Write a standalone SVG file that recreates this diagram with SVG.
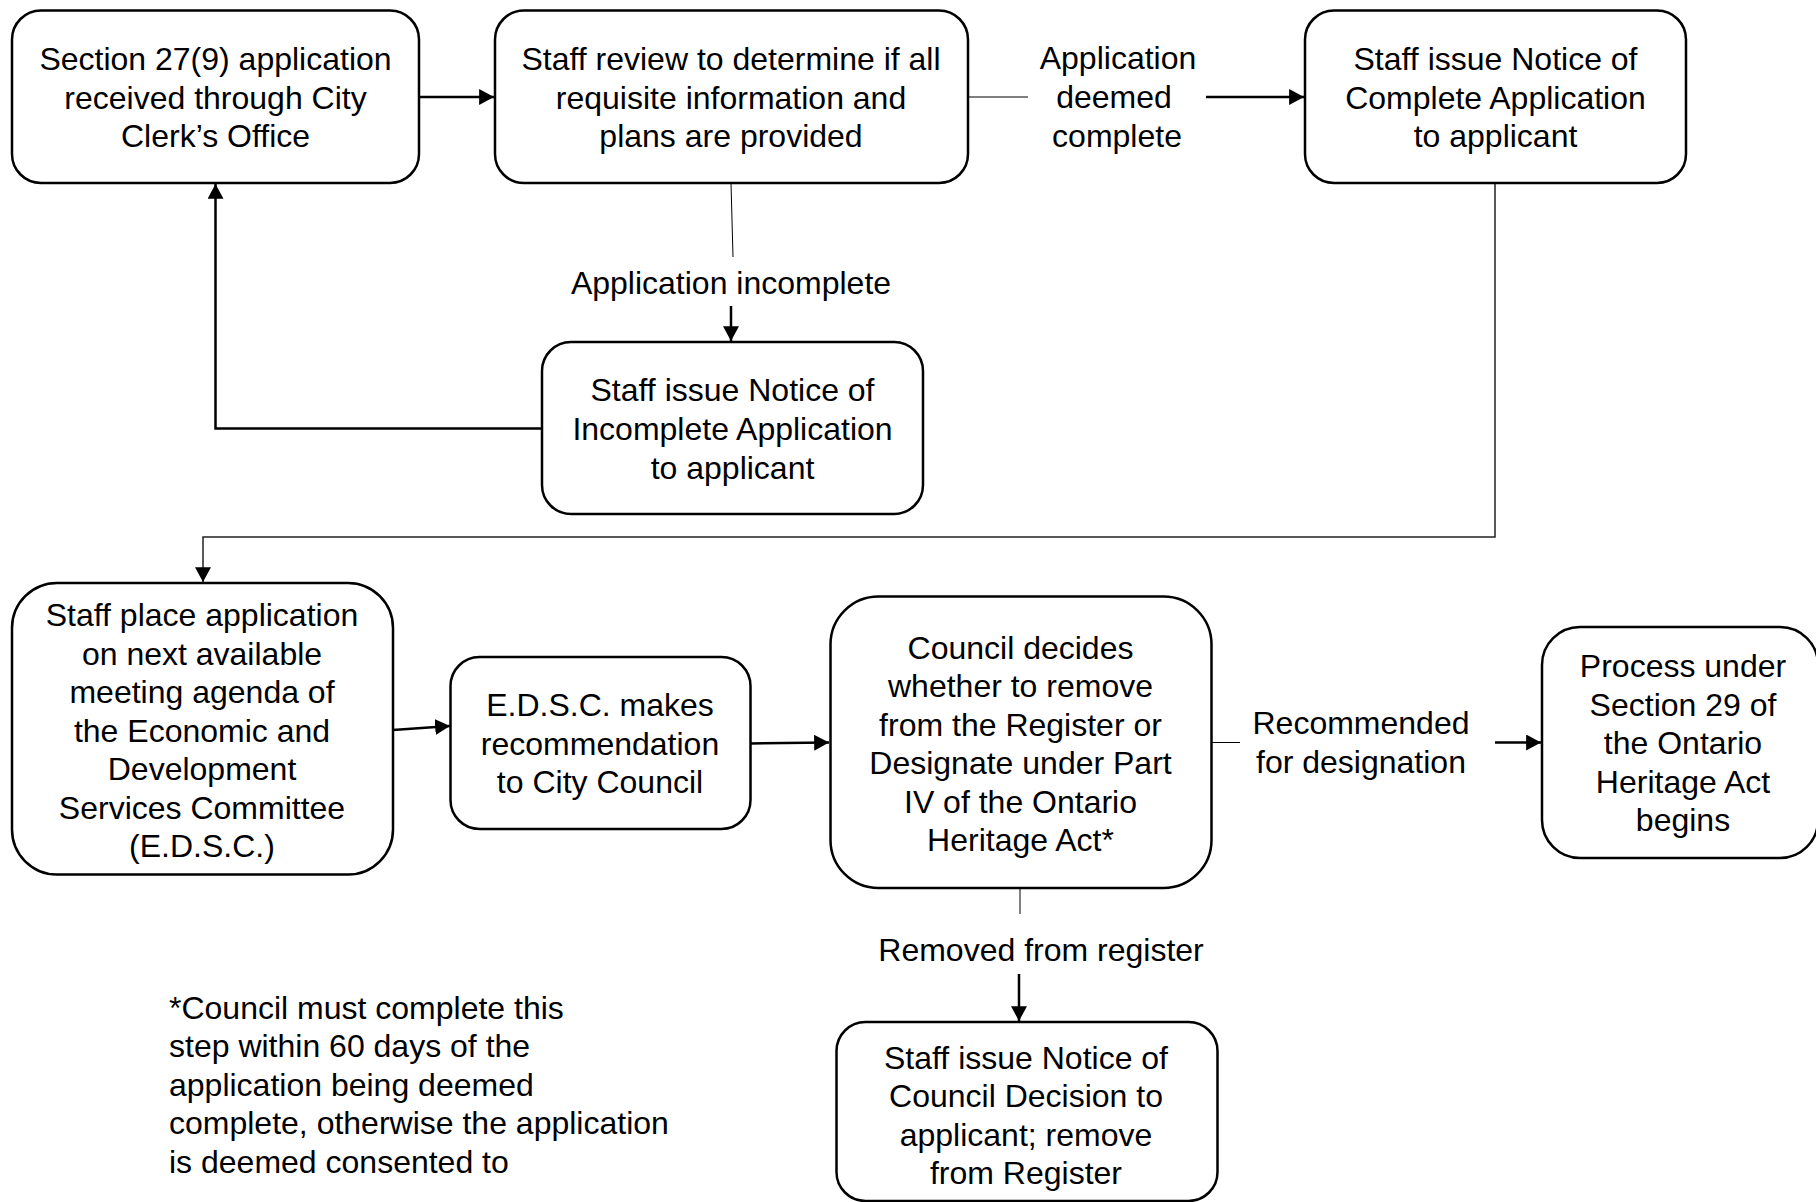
<svg xmlns="http://www.w3.org/2000/svg" width="1816" height="1202" viewBox="0 0 1816 1202">
<style>
.box{fill:#fff;stroke:#000;stroke-width:2.5}
.t{font-family:"Liberation Sans",Arial,sans-serif;font-size:32px;fill:#000;text-anchor:middle}
.tl{font-family:"Liberation Sans",Arial,sans-serif;font-size:32px;fill:#000}
.thick{fill:none;stroke:#000;stroke-width:2.5}
.thin{fill:none;stroke:#000;stroke-width:1}
.mid{fill:none;stroke:#222;stroke-width:1.5}
</style>
<defs>
<marker id="ah" markerUnits="userSpaceOnUse" markerWidth="16" markerHeight="16" viewBox="0 0 14 14" refX="13" refY="7" orient="auto">
<path d="M0,0 L13,7 L0,14 Z" fill="#000"/>
</marker>
</defs>
<rect width="1816" height="1202" fill="#fff"/>
<g id="connectors">
<line class="thick" x1="419" y1="97" x2="494" y2="97" marker-end="url(#ah)"/>
<line class="thin" x1="968" y1="97" x2="1028" y2="97"/>
<line class="thick" x1="1206" y1="97" x2="1304" y2="97" marker-end="url(#ah)"/>
<line class="thin" x1="731" y1="183" x2="733" y2="257"/>
<line class="thick" x1="731" y1="306" x2="731" y2="341" marker-end="url(#ah)"/>
<path class="thick" d="M542,428.5 H215.5 V184" marker-end="url(#ah)"/>
<path class="mid" d="M1495,183 V537 H203 V582" marker-end="url(#ah)"/>
<line class="thick" x1="393" y1="730" x2="450" y2="726" marker-end="url(#ah)"/>
<line class="thick" x1="750" y1="743.5" x2="829" y2="742.5" marker-end="url(#ah)"/>
<line class="thin" x1="1211" y1="742.5" x2="1240" y2="742.5"/>
<line class="thick" x1="1495" y1="742.5" x2="1541" y2="742.5" marker-end="url(#ah)"/>
<line class="thin" x1="1020" y1="888" x2="1020" y2="914"/>
<line class="thick" x1="1019" y1="974" x2="1019" y2="1021" marker-end="url(#ah)"/>
</g>
<g id="node1">
<rect class="box" x="12" y="10.5" width="407" height="172.5" rx="29"/>
<text class="t" x="215.5" y="70">Section 27(9) application</text>
<text class="t" x="215.5" y="108.5">received through City</text>
<text class="t" x="215.5" y="147">Clerk’s Office</text>
</g>
<g id="node2">
<rect class="box" x="495" y="10.5" width="473" height="172.5" rx="29"/>
<text class="t" x="731" y="70">Staff review to determine if all</text>
<text class="t" x="731" y="108.5">requisite information and</text>
<text class="t" x="731" y="147">plans are provided</text>
</g>
<g id="label-complete">
<text class="t" x="1118" y="69">Application</text>
<text class="t" x="1114" y="108">deemed</text>
<text class="t" x="1117" y="146.5">complete</text>
</g>
<g id="node3">
<rect class="box" x="1305" y="10.5" width="381" height="172.5" rx="29"/>
<text class="t" x="1495.5" y="70">Staff issue Notice of</text>
<text class="t" x="1495.5" y="108.5">Complete Application</text>
<text class="t" x="1495.5" y="147">to applicant</text>
</g>
<g id="label-incomplete">
<text class="t" x="731" y="293.5">Application incomplete</text>
</g>
<g id="node4">
<rect class="box" x="542" y="342" width="381" height="172" rx="29"/>
<text class="t" x="732.5" y="401">Staff issue Notice of</text>
<text class="t" x="732.5" y="439.5">Incomplete Application</text>
<text class="t" x="732.5" y="479">to applicant</text>
</g>
<g id="node5">
<rect class="box" x="12" y="583" width="381" height="291.5" rx="45"/>
<text class="t" x="202" y="626">Staff place application</text>
<text class="t" x="202" y="664.5">on next available</text>
<text class="t" x="202" y="703">meeting agenda of</text>
<text class="t" x="202" y="741.5">the Economic and</text>
<text class="t" x="202" y="780">Development</text>
<text class="t" x="202" y="818.5">Services Committee</text>
<text class="t" x="202" y="857">(E.D.S.C.)</text>
</g>
<g id="node6">
<rect class="box" x="450.5" y="657" width="300" height="172" rx="29"/>
<text class="t" x="600" y="716">E.D.S.C. makes</text>
<text class="t" x="600" y="754.5">recommendation</text>
<text class="t" x="600" y="793">to City Council</text>
</g>
<g id="node7">
<rect class="box" x="830.5" y="596.5" width="381" height="291.5" rx="48"/>
<text class="t" x="1020.5" y="658.5">Council decides</text>
<text class="t" x="1020.5" y="697">whether to remove</text>
<text class="t" x="1020.5" y="735.5">from the Register or</text>
<text class="t" x="1020.5" y="774">Designate under Part</text>
<text class="t" x="1020.5" y="812.5">IV of the Ontario</text>
<text class="t" x="1020.5" y="851">Heritage Act*</text>
</g>
<g id="label-recommended">
<text class="t" x="1361" y="733.5">Recommended</text>
<text class="t" x="1361" y="773">for designation</text>
</g>
<g id="node8">
<rect class="box" x="1542" y="627" width="276" height="231" rx="38"/>
<text class="t" x="1683" y="677">Process under</text>
<text class="t" x="1683" y="715.5">Section 29 of</text>
<text class="t" x="1683" y="754">the Ontario</text>
<text class="t" x="1683" y="792.5">Heritage Act</text>
<text class="t" x="1683" y="831">begins</text>
</g>
<g id="label-removed">
<text class="t" x="1041" y="960.5">Removed from register</text>
</g>
<g id="node9">
<rect class="box" x="836.5" y="1022" width="381" height="179" rx="29"/>
<text class="t" x="1026" y="1068.5">Staff issue Notice of</text>
<text class="t" x="1026" y="1107">Council Decision to</text>
<text class="t" x="1026" y="1145.5">applicant; remove</text>
<text class="t" x="1026" y="1184">from Register</text>
</g>
<g id="footnote">
<text class="tl" x="169" y="1018.5">*Council must complete this</text>
<text class="tl" x="169" y="1057">step within 60 days of the</text>
<text class="tl" x="169" y="1095.5">application being deemed</text>
<text class="tl" x="169" y="1134">complete, otherwise the application</text>
<text class="tl" x="169" y="1172.5">is deemed consented to</text>
</g>
</svg>
